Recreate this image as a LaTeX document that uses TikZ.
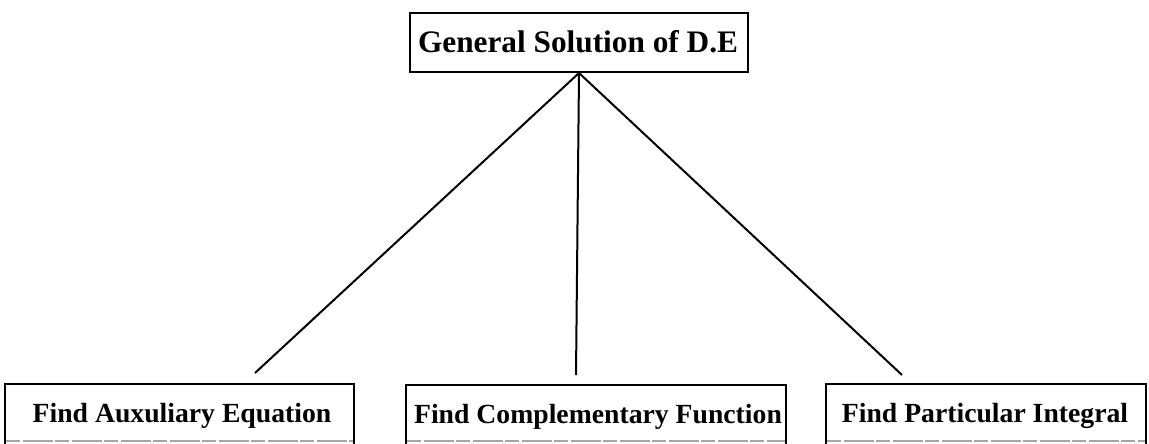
\documentclass[tikz,border=0pt]{standalone}
\usepackage{fontspec}
\setmainfont{Liberation Serif}
\tikzset{
  box/.style={draw=black, line width=2pt, inner sep=0pt, anchor=north west},
  toplbl/.style={font=\fontsize{31.3}{36}\selectfont\bfseries, text=black, anchor=base, inner sep=0pt},
  lbl/.style={font=\fontsize{27.7}{32}\selectfont\bfseries, text=black, anchor=base, inner sep=0pt},
  link/.style={draw=black, line width=2pt},
  faint/.style={draw=black!35, line width=1.2pt, dash pattern=on 14pt off 3pt on 30pt off 2pt}
}
\begin{document}
\begin{tikzpicture}[x=1pt, y=-1pt]
  \useasboundingbox (0,0) rectangle (1149,444);
  \fill[white] (0,0) rectangle (1149,444);

  % root box
  \node[box, minimum width=338pt, minimum height=59pt] (root) at (409,12) {};
  \node[toplbl] (rootlbl) at (578,53) {General Solution of D.E};

  % the three steps; their sides run down to the page edge
  \begin{scope}
    \clip (0,0) rectangle (1149,444);
    \node[box, minimum width=349pt, minimum height=80pt] (aux) at (4,383) {};
    \node[box, minimum width=380pt, minimum height=80pt] (cf) at (405,384) {};
    \node[box, minimum width=320pt, minimum height=80pt] (pi) at (825,383) {};
  \end{scope}
  % faint lower edges
  \draw[faint] ([xshift=2pt]aux.west |- 0,441) -- ([xshift=-2pt]aux.east |- 0,441);
  \draw[faint] ([xshift=2pt]cf.west |- 0,441) -- ([xshift=-2pt]cf.east |- 0,441);
  \draw[faint] ([xshift=2pt]pi.west |- 0,441) -- ([xshift=-2pt]pi.east |- 0,441);

  \node[lbl] (auxlbl) at (182,422) {Find Auxuliary Equation};
  \node[lbl] (cflbl) at (598,423) {Find Complementary Function};
  \node[lbl] (pilbl) at (985,422) {Find Particular Integral};

  % connectors from the bottom of the root box
  \coordinate (apex) at (root.south);
  \coordinate (endaux) at (255,373);
  \coordinate (endcf) at (576,375);
  \coordinate (endpi) at (902,375);
  \draw[link] (apex) -- (endaux);
  \draw[link] (apex) -- (endcf);
  \draw[link] (apex) -- (endpi);
\end{tikzpicture}
\end{document}
